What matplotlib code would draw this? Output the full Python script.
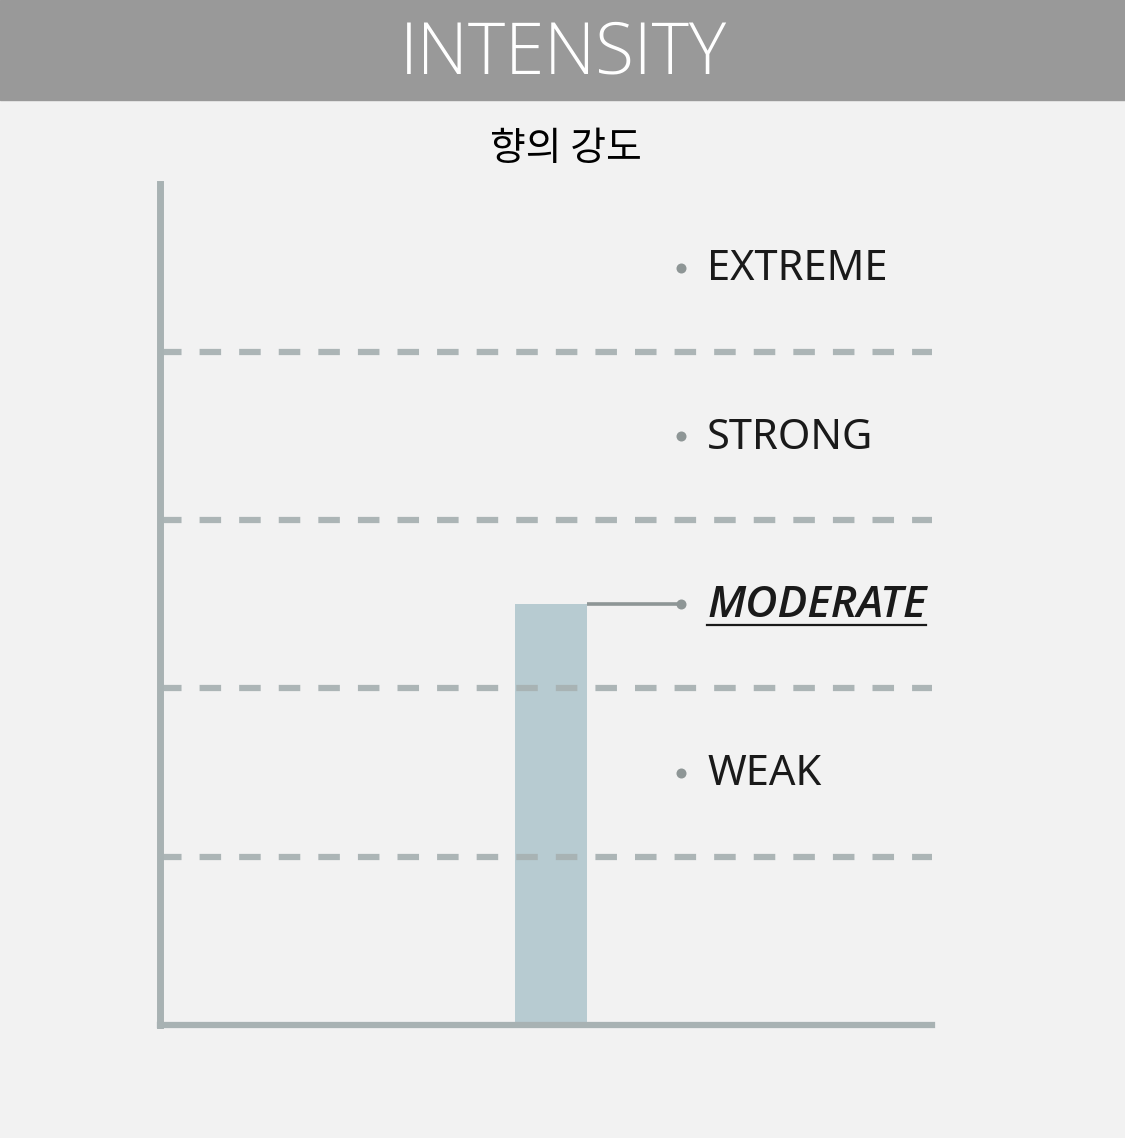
import matplotlib.pyplot as plt
from matplotlib.patches import Rectangle
from matplotlib.lines import Line2D

# data
levels = ['WEAK', 'MODERATE', 'STRONG', 'EXTREME']
level_pos = [1.5, 2.5, 3.5, 4.5]
grid_levels = [1, 2, 3, 4]
intensity = 2.5
selected = 'MODERATE'

# colors
bg = '#f2f2f2'
header = '#999999'
axis_col = '#a8b2b3'
bar_col = '#b7cbd1'
dot_col = '#8e9696'
text_col = '#1a1a1a'

plt.rcParams['lines.scale_dashes'] = False

fig = plt.figure(figsize=(11.25, 11.38), dpi=100, facecolor=bg)
H = 1138

# header band
fig.patches.append(Rectangle((0, 1 - 100 / H), 1, 100 / H, transform=fig.transFigure,
                             color=header, zorder=0))
fig.text(0.501, 1 - 74 / H, 'INTENSITY', ha='center', va='baseline', fontsize=51,
         color='white', family='Open Sans', fontweight='light')
fig.text(0.5027, 1 - 160 / H, '향의 강도', ha='center', va='baseline', fontsize=28,
         color='black', family=['Noto Sans CJK KR', 'DejaVu Sans'])

ax = fig.add_axes([159.5 / 1125, 1 - 1025 / H, (932 - 159.5) / 1125, (1025 - 183.5) / H])
ax.set_facecolor('none')
ax.set_xlim(0, 10)
ax.set_ylim(0, 5)
ax.set_xticks([])
ax.set_yticks([])
for s in ['top', 'right']:
    ax.spines[s].set_visible(False)
ax.spines['left'].set_color(axis_col)
ax.spines['left'].set_linewidth(5)
ax.spines['bottom'].set_color(axis_col)
ax.spines['bottom'].set_linewidth(4.5)
ax.spines['left'].set_zorder(4)
ax.spines['bottom'].set_zorder(4)

# bar
ax.bar([5.07], [intensity], width=0.93, color=bar_col, zorder=1)

# dashed grid
for g in grid_levels:
    ax.axhline(g, color=axis_col, lw=4.5, dashes=(15.5, 13.0), zorder=2, alpha=0.95)

# connector from bar top to the selected label
ax.plot([5.535, 6.75], [intensity, intensity], color=dot_col, lw=2.6, zorder=3,
        solid_capstyle='butt')

# level labels
ax.scatter([6.75] * len(levels), level_pos, s=52, color=dot_col, zorder=5, linewidths=0)
off = 0.075
label_texts = {}
for name, y in zip(levels, level_pos):
    if name == selected:
        t = ax.text(7.09, y - off, name, ha='left', va='baseline', fontsize=32,
                    color=text_col, family='Open Sans', fontstyle='italic',
                    fontweight='semibold')
    else:
        t = ax.text(7.09, y - off, name, ha='left', va='baseline', fontsize=30,
                    color=text_col, family='Noto Sans')
    label_texts[name] = t

# underline the selected label
fig.canvas.draw()
r = fig.canvas.get_renderer()
bb = label_texts[selected].get_window_extent(r)
base_y = ax.transData.transform((0, level_pos[levels.index(selected)] - off))[1]
fig.add_artist(Line2D([bb.x0, bb.x1], [base_y - 8, base_y - 8], transform=None,
                      color=text_col, lw=1.6))

fig.savefig('out.png', dpi=100, facecolor=bg)
